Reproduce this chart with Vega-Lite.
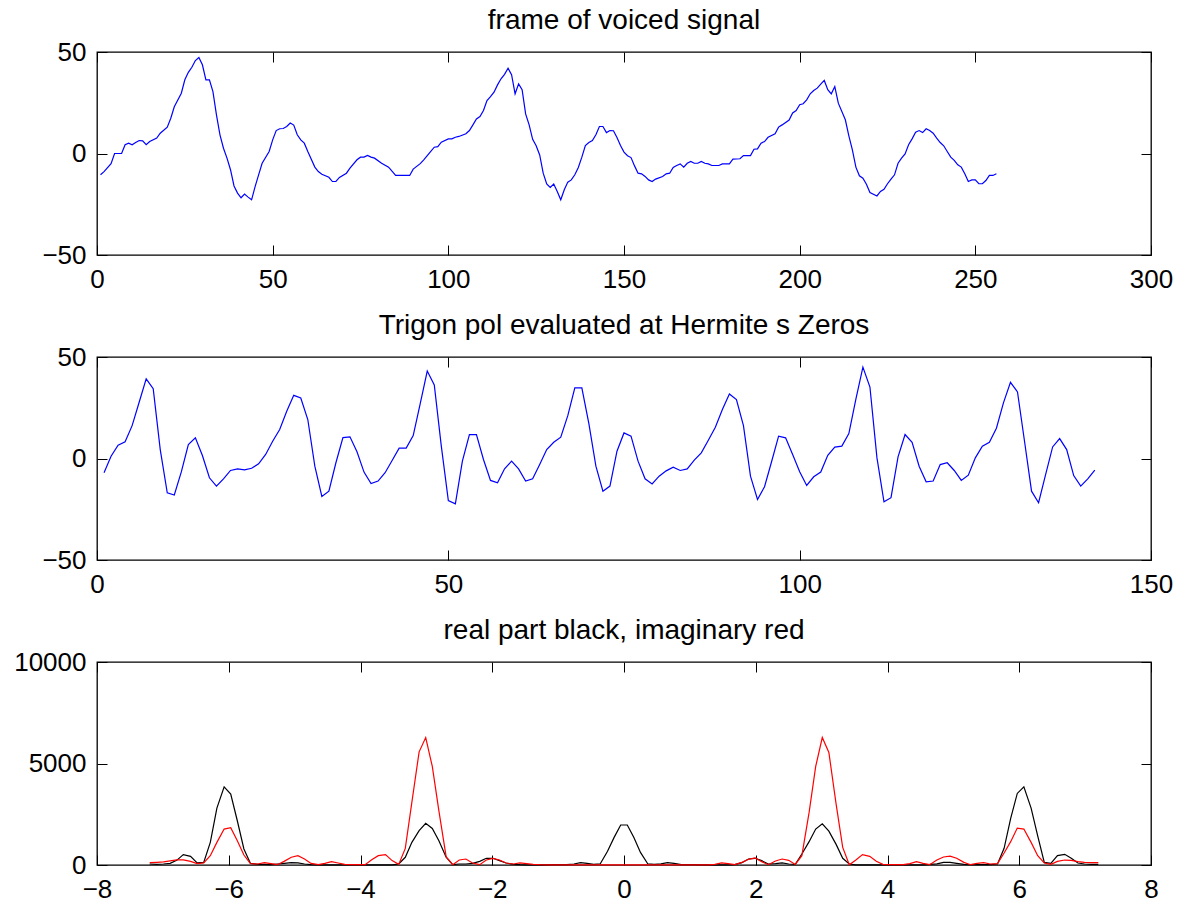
{
  "$schema": "https://vega.github.io/schema/vega-lite/v6.json",
  "background": "white",
  "padding": {"left": 13, "top": 6, "right": 5, "bottom": 5},
  "bounds": "flush",
  "spacing": 102,
  "config": {
    "font": "Liberation Sans",
    "view": {"stroke": "black", "strokeWidth": 1.3},
    "axis": {
      "grid": false,
      "domain": false,
      "tickColor": "black",
      "tickSize": -10,
      "tickWidth": 1,
      "labelFont": "Liberation Sans",
      "labelFontSize": 26,
      "labelColor": "black",
      "labelPadding": 21,
      "labelFlush": false,
      "labelOverlap": false
    },
    "title": {"font": "Liberation Sans", "fontSize": 28, "fontWeight": "normal", "color": "black", "offset": 4, "anchor": "middle"}
  },
  "vconcat": [
    {
      "width": 1054,
      "height": 203,
      "title": "frame of voiced signal",
      "data": {"values": [
        {"n":1,"s":-10.5},{"n":2,"s":-8.9},{"n":4,"s":-5},{"n":5,"s":0},{"n":7,"s":0},{"n":8,"s":4.3},{"n":9,"s":5.1},{"n":10,"s":4.3},{"n":11,"s":5.4},{"n":12,"s":6.4},{"n":13,"s":6.2},{"n":14,"s":4.3},{"n":15,"s":5.9},{"n":17,"s":7.6},{"n":18,"s":10},{"n":20,"s":13},
        {"n":21,"s":17.4},{"n":22,"s":23},{"n":24,"s":29.7},{"n":25,"s":36.3},{"n":26,"s":40},{"n":27,"s":42.5},{"n":28,"s":45.8},{"n":29,"s":47.3},{"n":30,"s":43.7},{"n":31,"s":36.3},{"n":32,"s":36.3},{"n":33,"s":30.5},{"n":34,"s":19},{"n":35,"s":9.2},{"n":36,"s":2.6},{"n":37,"s":-2.3},{"n":38,"s":-8},{"n":39,"s":-16},{"n":40,"s":-19.5},
        {"n":41,"s":-21.8},{"n":42,"s":-20},{"n":43,"s":-21.5},{"n":44,"s":-22.8},{"n":45,"s":-16.3},{"n":46,"s":-10.5},{"n":47,"s":-4.8},{"n":49,"s":1},{"n":50,"s":6.7},{"n":51,"s":11.3},{"n":52,"s":12.2},{"n":53,"s":12.3},{"n":54,"s":13.3},{"n":55,"s":15},{"n":56,"s":14},{"n":57,"s":9.2},{"n":58,"s":6.7},{"n":59,"s":5.1},{"n":60,"s":1},
        {"n":62,"s":-6.7},{"n":63,"s":-8.9},{"n":64,"s":-10.2},{"n":66,"s":-11.7},{"n":67,"s":-13.8},{"n":68,"s":-13.8},{"n":69,"s":-11.8},{"n":71,"s":-9.7},{"n":72,"s":-7.2},{"n":74,"s":-3.1},{"n":75,"s":-1.8},{"n":76,"s":-1.8},{"n":77,"s":-1},{"n":78,"s":-1.8},{"n":79,"s":-2.3},{"n":81,"s":-4.8},{"n":83,"s":-6.7},{"n":85,"s":-10.8},{"n":89,"s":-10.8},{"n":90,"s":-7.7},
        {"n":92,"s":-5},{"n":93,"s":-3.1},{"n":95,"s":1},{"n":96,"s":3.1},{"n":97,"s":3.4},{"n":98,"s":5.6},{"n":100,"s":7.2},{"n":101,"s":7.2},{"n":102,"s":8},{"n":103,"s":8.4},{"n":105,"s":9.7},{"n":106,"s":11.3},{"n":107,"s":14.1},{"n":108,"s":17},{"n":109,"s":18.2},{"n":110,"s":21.2},
        {"n":111,"s":26.1},{"n":112,"s":28},{"n":113,"s":30.2},{"n":114,"s":33.8},{"n":115,"s":36.8},{"n":116,"s":39},{"n":117,"s":42},{"n":118,"s":38.8},{"n":119,"s":29.4},{"n":120,"s":34.3},{"n":121,"s":31.4},{"n":122,"s":19.5},{"n":123,"s":14.1},{"n":124,"s":7},{"n":125,"s":3.8},{"n":126,"s":-0.7},{"n":127,"s":-9.7},{"n":128,"s":-15},{"n":129,"s":-16.7},{"n":130,"s":-15},
        {"n":131,"s":-18.7},{"n":132,"s":-22.8},{"n":133,"s":-17.9},{"n":134,"s":-14.1},{"n":135,"s":-13},{"n":136,"s":-10.5},{"n":137,"s":-6.9},{"n":138,"s":-1.8},{"n":139,"s":3.9},{"n":140,"s":5.4},{"n":141,"s":6.4},{"n":142,"s":9.2},{"n":143,"s":13.3},{"n":144,"s":13.3},{"n":145,"s":10.3},{"n":146,"s":11.3},{"n":147,"s":11.2},{"n":148,"s":7.9},{"n":149,"s":3.9},{"n":150,"s":0.7},
        {"n":151,"s":-1.1},{"n":152,"s":-2},{"n":153,"s":-6.1},{"n":154,"s":-9.7},{"n":155,"s":-10},{"n":156,"s":-11.3},{"n":157,"s":-13},{"n":158,"s":-13.8},{"n":159,"s":-12.6},{"n":161,"s":-11.3},{"n":162,"s":-10},{"n":163,"s":-9.7},{"n":164,"s":-6.9},{"n":165,"s":-5.9},{"n":166,"s":-5.1},{"n":167,"s":-6.7},{"n":168,"s":-4.8},{"n":169,"s":-3.9},{"n":170,"s":-4.8},
        {"n":171,"s":-4.8},{"n":172,"s":-3.9},{"n":173,"s":-4.8},{"n":174,"s":-5.1},{"n":175,"s":-5.9},{"n":177,"s":-5.9},{"n":178,"s":-5.1},{"n":180,"s":-5.1},{"n":181,"s":-2.8},{"n":183,"s":-2.6},{"n":184,"s":-1},{"n":186,"s":-1},{"n":187,"s":2.1},{"n":188,"s":2.3},{"n":189,"s":5.1},{"n":190,"s":5.9},
        {"n":191,"s":8},{"n":193,"s":9.7},{"n":194,"s":13},{"n":195,"s":14.1},{"n":197,"s":16.5},{"n":198,"s":20},{"n":199,"s":21.2},{"n":200,"s":24},{"n":201,"s":24.5},{"n":202,"s":26.4},{"n":203,"s":29.4},{"n":204,"s":31},{"n":205,"s":32.2},{"n":206,"s":34.2},{"n":207,"s":36},{"n":208,"s":31.4},{"n":209,"s":29.4},{"n":210,"s":33},
        {"n":211,"s":24.8},{"n":213,"s":16.6},{"n":214,"s":8.7},{"n":215,"s":1.8},{"n":216,"s":-6.7},{"n":217,"s":-11},{"n":218,"s":-12.2},{"n":219,"s":-15.1},{"n":220,"s":-19.2},{"n":222,"s":-20.9},{"n":223,"s":-18.7},{"n":224,"s":-17.6},{"n":225,"s":-14.9},{"n":226,"s":-12.6},{"n":227,"s":-10.5},{"n":228,"s":-4.8},{"n":229,"s":-2.3},{"n":230,"s":-0.2},
        {"n":231,"s":4.3},{"n":232,"s":7.2},{"n":233,"s":10.5},{"n":234,"s":11.3},{"n":235,"s":10.3},{"n":236,"s":12.2},{"n":237,"s":11.3},{"n":238,"s":10},{"n":239,"s":7.6},{"n":240,"s":5.4},{"n":241,"s":3.8},{"n":242,"s":1},{"n":243,"s":-1.8},{"n":244,"s":-3.4},{"n":245,"s":-5.6},{"n":246,"s":-6.7},{"n":247,"s":-10},{"n":248,"s":-13.8},{"n":249,"s":-13},{"n":250,"s":-13},
        {"n":251,"s":-14.9},{"n":252,"s":-14.9},{"n":253,"s":-13.3},{"n":254,"s":-10.8},{"n":255,"s":-10.8},{"n":256,"s":-10}
      ]},
      "layer": [
        {
          "mark": {"type": "line", "color": "#0000ff", "strokeWidth": 1.2},
          "encoding": {
            "x": {"field": "n", "type": "quantitative", "title": null, "scale": {"domain": [0, 300], "nice": false, "zero": false}, "axis": {"orient": "bottom", "values": [0, 50, 100, 150, 200, 250, 300], "format": "d"}},
            "y": {"field": "s", "type": "quantitative", "title": null, "scale": {"domain": [-50, 50], "nice": false}, "axis": {"orient": "left", "values": [-50, 0, 50], "format": "d"}}
          }
        },
        {
          "mark": {"type": "line", "opacity": 0},
          "encoding": {
            "x": {"field": "n", "type": "quantitative", "title": null, "axis": {"orient": "top", "values": [0, 50, 100, 150, 200, 250, 300], "labels": false}},
            "y": {"field": "s", "type": "quantitative", "title": null, "axis": {"orient": "right", "values": [-50, 0, 50], "labels": false}}
          }
        }
      ],
      "resolve": {"axis": {"x": "independent", "y": "independent"}}
    },
    {
      "width": 1054,
      "height": 203,
      "title": "Trigon pol evaluated at Hermite s Zeros",
      "data": {"values": [
        {"k":1,"p":-7},{"k":2,"p":1.1},{"k":3,"p":6.6},{"k":4,"p":8.2},{"k":5,"p":16.2},{"k":6,"p":27.7},{"k":7,"p":39.2},{"k":8,"p":34.4},{"k":9,"p":4.4},{"k":10,"p":-16.9},
        {"k":11,"p":-18},{"k":12,"p":-6.6},{"k":13,"p":6.9},{"k":14,"p":10.2},{"k":15,"p":1.5},{"k":16,"p":-9.5},{"k":17,"p":-13.6},{"k":18,"p":-10},{"k":19,"p":-5.9},{"k":20,"p":-5.1},
        {"k":21,"p":-5.6},{"k":22,"p":-4.8},{"k":23,"p":-2.6},{"k":24,"p":2},{"k":25,"p":8.5},{"k":26,"p":14.3},{"k":27,"p":23.3},{"k":28,"p":31.1},{"k":29,"p":29.8},{"k":30,"p":19.2},
        {"k":31,"p":-3.8},{"k":32,"p":-18.7},{"k":33,"p":-16.1},{"k":34,"p":-2.1},{"k":35,"p":10.3},{"k":36,"p":10.7},{"k":37,"p":3.3},{"k":38,"p":-6.7},{"k":39,"p":-12.3},{"k":40,"p":-11.1},
        {"k":41,"p":-7},{"k":42,"p":-1},{"k":43,"p":5.1},{"k":44,"p":5.1},{"k":45,"p":11.3},{"k":46,"p":27},{"k":47,"p":43.1},{"k":48,"p":36.2},{"k":49,"p":6.1},{"k":50,"p":-20.7},
        {"k":51,"p":-22.3},{"k":52,"p":-1.3},{"k":53,"p":11.8},{"k":54,"p":11.8},{"k":55,"p":-0.5},{"k":56,"p":-10.8},{"k":57,"p":-12},{"k":58,"p":-5.1},{"k":59,"p":-1.3},{"k":60,"p":-5.1},
        {"k":61,"p":-11.1},{"k":62,"p":-10},{"k":63,"p":-3},{"k":64,"p":4.4},{"k":65,"p":8},{"k":66,"p":10.5},{"k":67,"p":21.1},{"k":68,"p":34.8},{"k":69,"p":34.8},{"k":70,"p":17.2},
        {"k":71,"p":-3.8},{"k":72,"p":-16.1},{"k":73,"p":-13.6},{"k":74,"p":3.6},{"k":75,"p":12.6},{"k":76,"p":11},{"k":77,"p":-1.3},{"k":78,"p":-10},{"k":79,"p":-12.5},{"k":80,"p":-8.7},
        {"k":81,"p":-6.1},{"k":82,"p":-4.3},{"k":83,"p":-5.9},{"k":84,"p":-5.1},{"k":85,"p":-0.8},{"k":86,"p":2.8},{"k":87,"p":9},{"k":88,"p":15.4},{"k":89,"p":24.1},{"k":90,"p":31.8},
        {"k":91,"p":29},{"k":92,"p":16.2},{"k":93,"p":-8.7},{"k":94,"p":-20.2},{"k":95,"p":-13.9},{"k":96,"p":-1.6},{"k":97,"p":11},{"k":98,"p":10.2},{"k":99,"p":2},{"k":100,"p":-6.5},
        {"k":101,"p":-13.3},{"k":102,"p":-9},{"k":103,"p":-6.7},{"k":104,"p":1.6},{"k":105,"p":5.6},{"k":106,"p":6.1},{"k":107,"p":12.3},{"k":108,"p":29.3},{"k":109,"p":45},{"k":110,"p":35.2},
        {"k":111,"p":0.3},{"k":112,"p":-21.3},{"k":113,"p":-19.3},{"k":114,"p":0.8},{"k":115,"p":11.8},{"k":116,"p":8},{"k":117,"p":-3.8},{"k":118,"p":-11.5},{"k":119,"p":-11.1},{"k":120,"p":-3},
        {"k":121,"p":-2.1},{"k":122,"p":-5.9},{"k":123,"p":-10.8},{"k":124,"p":-8.2},{"k":125,"p":0.3},{"k":126,"p":6.1},{"k":127,"p":8},{"k":128,"p":14.9},{"k":129,"p":27.4},{"k":130,"p":37.5},
        {"k":131,"p":32.8},{"k":132,"p":8.5},{"k":133,"p":-16.1},{"k":134,"p":-21.8},{"k":135,"p":-7.9},{"k":136,"p":5.7},{"k":137,"p":9.8},{"k":138,"p":4.4},{"k":139,"p":-8.4},{"k":140,"p":-13.6},
        {"k":141,"p":-10},{"k":142,"p":-5.7}
      ]},
      "layer": [
        {
          "mark": {"type": "line", "color": "#0000ff", "strokeWidth": 1.2},
          "encoding": {
            "x": {"field": "k", "type": "quantitative", "title": null, "scale": {"domain": [0, 150], "nice": false, "zero": false}, "axis": {"orient": "bottom", "values": [0, 50, 100, 150], "format": "d"}},
            "y": {"field": "p", "type": "quantitative", "title": null, "scale": {"domain": [-50, 50], "nice": false}, "axis": {"orient": "left", "values": [-50, 0, 50], "format": "d"}}
          }
        },
        {
          "mark": {"type": "line", "opacity": 0},
          "encoding": {
            "x": {"field": "k", "type": "quantitative", "title": null, "axis": {"orient": "top", "values": [0, 50, 100, 150], "labels": false}},
            "y": {"field": "p", "type": "quantitative", "title": null, "axis": {"orient": "right", "values": [-50, 0, 50], "labels": false}}
          }
        }
      ],
      "resolve": {"axis": {"x": "independent", "y": "independent"}}
    },
    {
      "width": 1054,
      "height": 203,
      "title": "real part black, imaginary red",
      "data": {"values": [
        {"x":-7.2,"re":50,"im":115},{"x":-7.09,"re":30,"im":130},{"x":-6.99,"re":50,"im":150},{"x":-6.89,"re":80,"im":200},{"x":-6.79,"re":230,"im":250},{"x":-6.69,"re":510,"im":250},{"x":-6.58,"re":425,"im":180},{"x":-6.48,"re":100,"im":65},{"x":-6.38,"re":130,"im":100},{"x":-6.28,"re":1115,"im":460},
        {"x":-6.18,"re":2800,"im":1115},{"x":-6.07,"re":3850,"im":1770},{"x":-5.97,"re":3490,"im":1840},{"x":-5.87,"re":2180,"im":1200},{"x":-5.77,"re":790,"im":490},{"x":-5.67,"re":80,"im":65},{"x":-5.56,"re":30,"im":50},{"x":-5.46,"re":30,"im":115},{"x":-5.36,"re":15,"im":65},{"x":-5.26,"re":50,"im":15},
        {"x":-5.16,"re":80,"im":180},{"x":-5.05,"re":115,"im":380},{"x":-4.95,"re":100,"im":460},{"x":-4.85,"re":50,"im":295},{"x":-4.75,"re":15,"im":80},{"x":-4.64,"re":10,"im":15},{"x":-4.54,"re":10,"im":80},{"x":-4.44,"re":10,"im":165},{"x":-4.34,"re":10,"im":100},{"x":-4.24,"re":10,"im":30},
        {"x":-4.13,"re":10,"im":15},{"x":-4.03,"re":10,"im":15},{"x":-3.93,"re":10,"im":15},{"x":-3.83,"re":10,"im":260},{"x":-3.73,"re":10,"im":460},{"x":-3.62,"re":10,"im":510},{"x":-3.52,"re":10,"im":215},{"x":-3.42,"re":50,"im":30},{"x":-3.32,"re":380,"im":820},{"x":-3.22,"re":1115,"im":3100},
        {"x":-3.11,"re":1690,"im":5576},{"x":-3.01,"re":2050,"im":6281},{"x":-2.91,"re":1800,"im":4854},{"x":-2.81,"re":1200,"im":2670},{"x":-2.7,"re":380,"im":410},{"x":-2.6,"re":15,"im":15},{"x":-2.5,"re":50,"im":245},{"x":-2.4,"re":50,"im":295},{"x":-2.3,"re":80,"im":100},{"x":-2.19,"re":180,"im":15},
        {"x":-2.09,"re":330,"im":245},{"x":-1.99,"re":330,"im":330},{"x":-1.89,"re":215,"im":245},{"x":-1.79,"re":100,"im":100},{"x":-1.68,"re":30,"im":50},{"x":-1.58,"re":15,"im":100},{"x":-1.48,"re":10,"im":65},{"x":-1.38,"re":10,"im":30},{"x":-1.28,"re":10,"im":15},{"x":-1.17,"re":10,"im":10},
        {"x":-1.07,"re":15,"im":10},{"x":-0.97,"re":20,"im":10},{"x":-0.87,"re":20,"im":10},{"x":-0.76,"re":50,"im":10},{"x":-0.66,"re":115,"im":10},{"x":-0.56,"re":80,"im":10},{"x":-0.46,"re":30,"im":10},{"x":-0.36,"re":60,"im":10},{"x":-0.25,"re":680,"im":10},{"x":-0.15,"re":1360,"im":10},
        {"x":-0.05,"re":1970,"im":10},
        {"x":0.05,"re":1970,"im":10},{"x":0.15,"re":1360,"im":10},{"x":0.25,"re":620,"im":10},{"x":0.36,"re":60,"im":10},{"x":0.46,"re":30,"im":10},{"x":0.56,"re":60,"im":10},{"x":0.66,"re":115,"im":10},{"x":0.76,"re":80,"im":10},{"x":0.87,"re":20,"im":10},{"x":0.97,"re":20,"im":10},
        {"x":1.07,"re":15,"im":10},{"x":1.17,"re":10,"im":10},{"x":1.28,"re":10,"im":10},{"x":1.38,"re":10,"im":30},{"x":1.48,"re":10,"im":100},{"x":1.58,"re":10,"im":65},{"x":1.68,"re":15,"im":15},{"x":1.79,"re":115,"im":130},{"x":1.89,"re":295,"im":280},{"x":1.99,"re":330,"im":345},
        {"x":2.09,"re":215,"im":165},{"x":2.19,"re":50,"im":15},{"x":2.3,"re":65,"im":200},{"x":2.4,"re":100,"im":295},{"x":2.5,"re":50,"im":230},{"x":2.6,"re":30,"im":30},{"x":2.7,"re":540,"im":460},{"x":2.81,"re":1150,"im":2590},{"x":2.91,"re":1770,"im":4854},{"x":3.01,"re":2030,"im":6281},
        {"x":3.11,"re":1670,"im":5543},{"x":3.22,"re":1015,"im":3000},{"x":3.32,"re":330,"im":870},{"x":3.42,"re":50,"im":15},{"x":3.52,"re":10,"im":245},{"x":3.62,"re":10,"im":510},{"x":3.73,"re":10,"im":425},{"x":3.83,"re":10,"im":180},{"x":3.93,"re":10,"im":30},{"x":4.03,"re":10,"im":15},
        {"x":4.13,"re":10,"im":15},{"x":4.24,"re":10,"im":15},{"x":4.34,"re":10,"im":65},{"x":4.44,"re":10,"im":165},{"x":4.54,"re":10,"im":80},{"x":4.64,"re":30,"im":15},{"x":4.75,"re":60,"im":245},{"x":4.85,"re":130,"im":395},{"x":4.95,"re":130,"im":440},{"x":5.05,"re":80,"im":330},
        {"x":5.16,"re":30,"im":130},{"x":5.26,"re":15,"im":15},{"x":5.36,"re":15,"im":80},{"x":5.46,"re":20,"im":115},{"x":5.56,"re":20,"im":50},{"x":5.67,"re":50,"im":65},{"x":5.77,"re":820,"im":590},{"x":5.87,"re":2300,"im":1150},{"x":5.97,"re":3525,"im":1820},{"x":6.07,"re":3850,"im":1770},
        {"x":6.18,"re":2800,"im":1115},{"x":6.28,"re":1440,"im":460},{"x":6.38,"re":130,"im":100},{"x":6.48,"re":80,"im":30},{"x":6.58,"re":460,"im":180},{"x":6.69,"re":525,"im":245},{"x":6.79,"re":330,"im":230},{"x":6.89,"re":100,"im":165},{"x":6.99,"re":50,"im":130},{"x":7.09,"re":30,"im":115},
        {"x":7.2,"re":30,"im":115}
      ]},
      "layer": [
        {
          "mark": {"type": "line", "color": "#000000", "strokeWidth": 1.2},
          "encoding": {
            "x": {"field": "x", "type": "quantitative", "title": null, "scale": {"domain": [-8, 8], "nice": false, "zero": false}, "axis": {"orient": "bottom", "values": [-8, -6, -4, -2, 0, 2, 4, 6, 8], "format": "d"}},
            "y": {"field": "re", "type": "quantitative", "title": null, "scale": {"domain": [0, 10000], "nice": false}, "axis": {"orient": "left", "values": [0, 5000, 10000], "format": "d"}}
          }
        },
        {
          "mark": {"type": "line", "color": "#ff0000", "strokeWidth": 1.2},
          "encoding": {
            "x": {"field": "x", "type": "quantitative", "title": null, "axis": {"orient": "top", "values": [-8, -6, -4, -2, 0, 2, 4, 6, 8], "labels": false}},
            "y": {"field": "im", "type": "quantitative", "title": null, "axis": {"orient": "right", "values": [0, 5000, 10000], "labels": false}}
          }
        }
      ],
      "resolve": {"axis": {"x": "independent", "y": "independent"}}
    }
  ]
}
